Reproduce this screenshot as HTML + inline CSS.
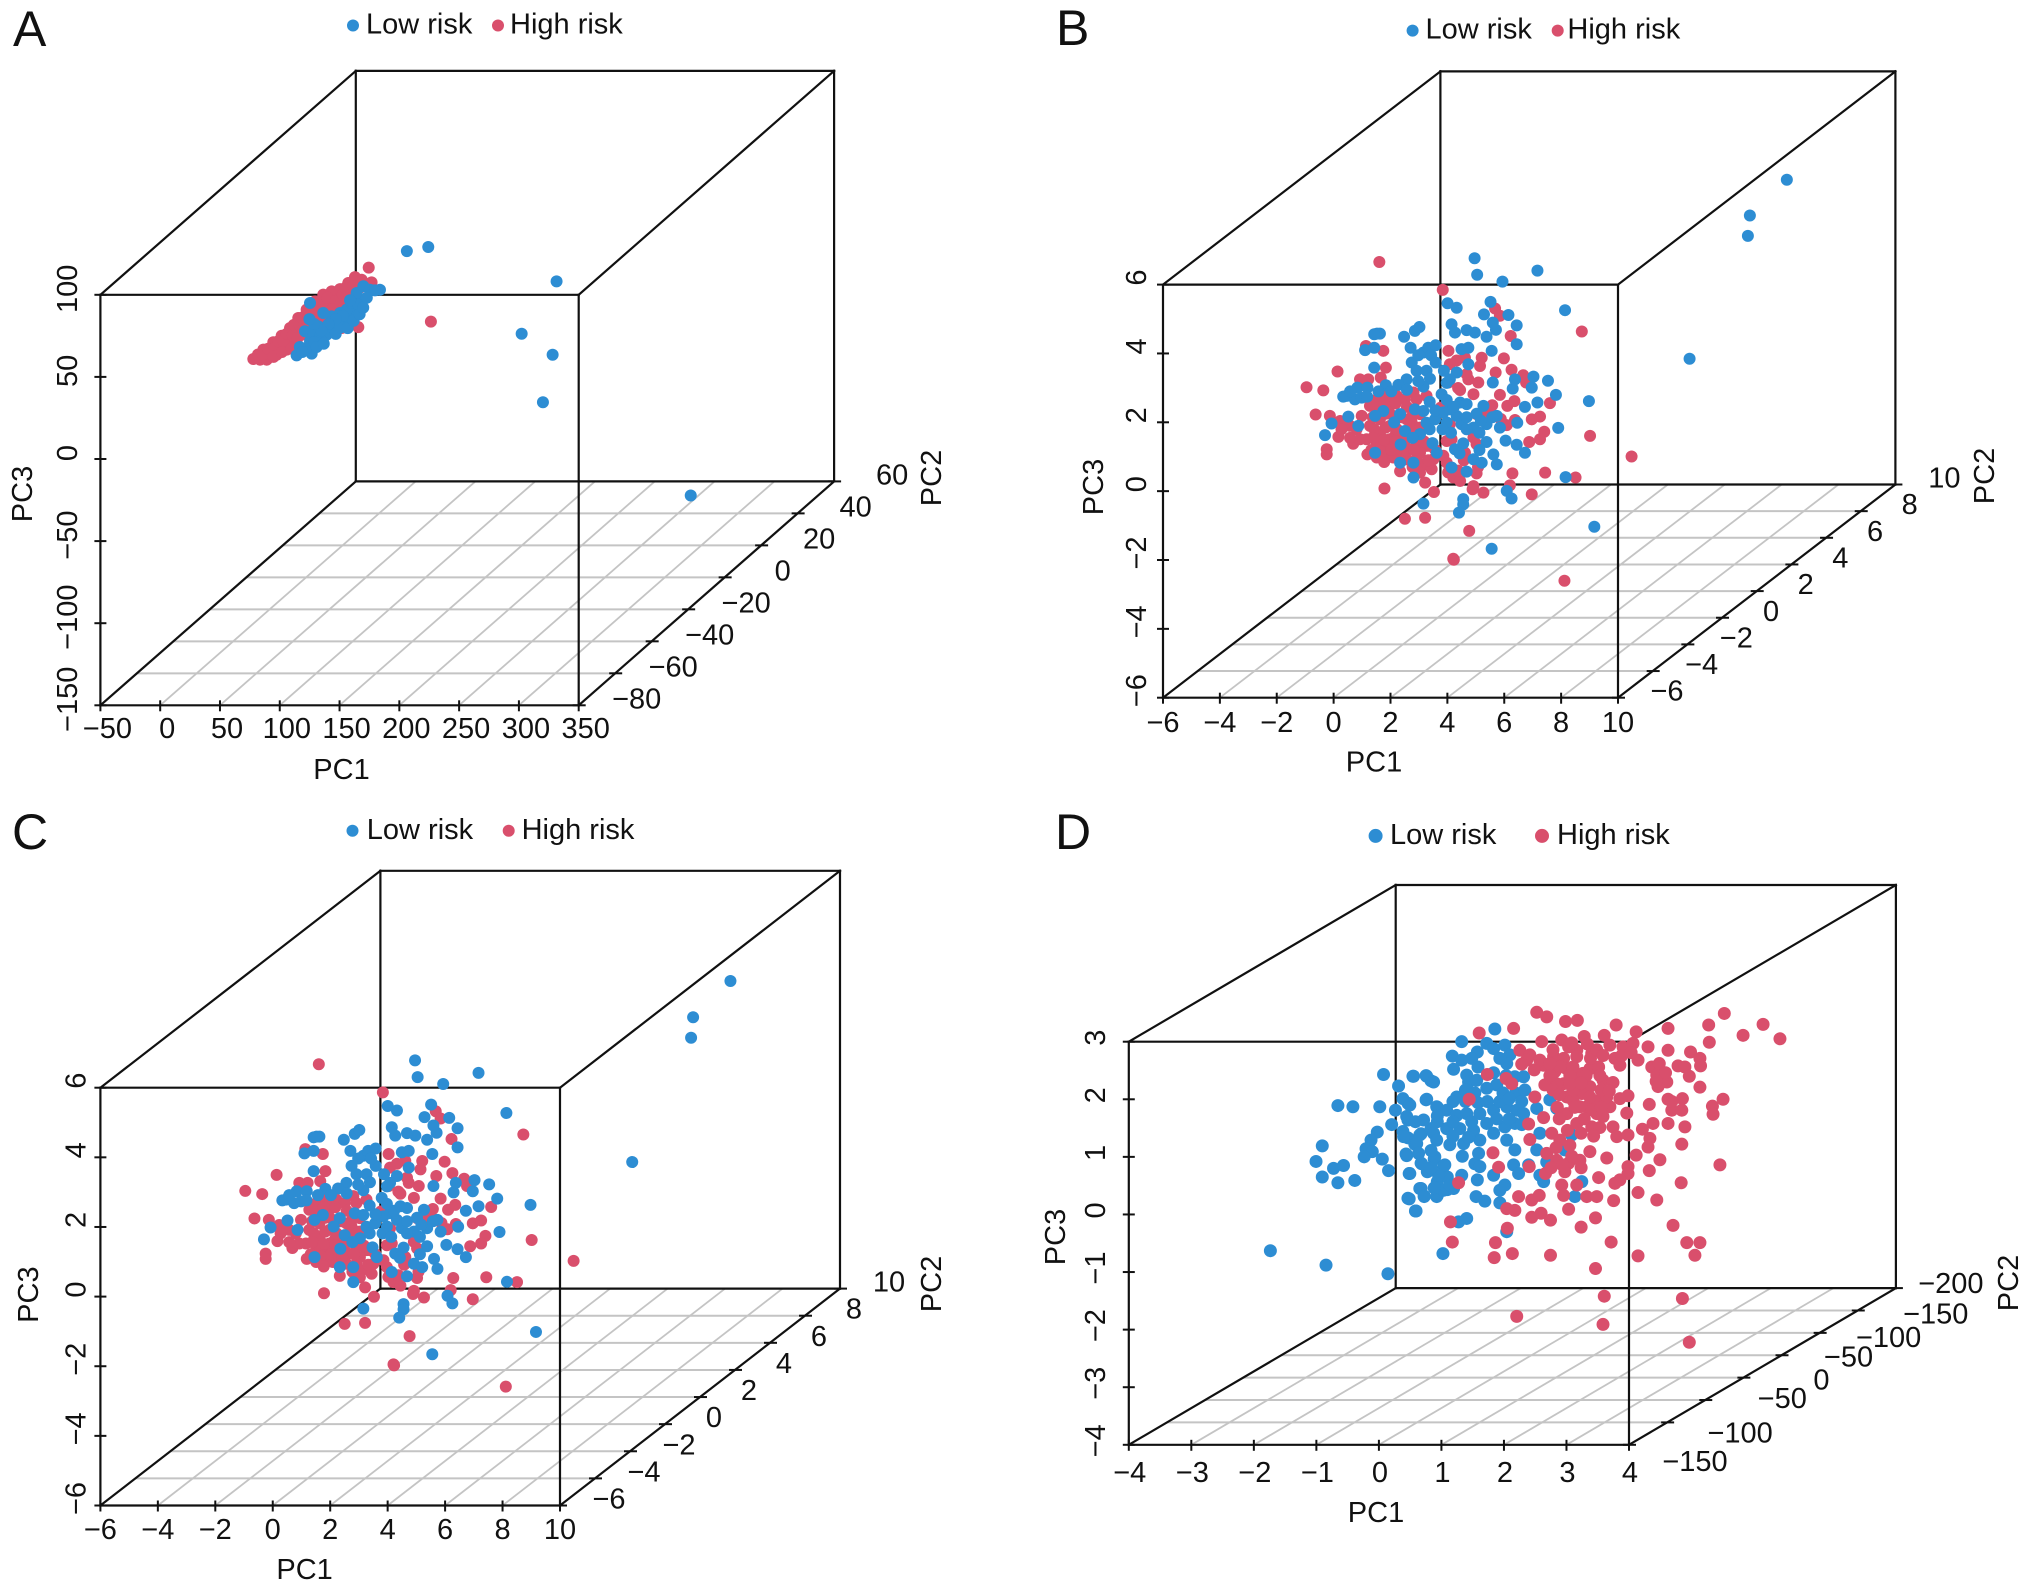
<!DOCTYPE html>
<html lang="en">
<head>
<meta charset="utf-8">
<title>PCA 3D scatter plots: low risk and high risk</title>
<style>
html,body{margin:0;padding:0;background:#fff;}
svg{display:block;}
text{font-family:"Liberation Sans",Arial,sans-serif;fill:#111;}
</style>
</head>
<body>
<svg id="figure" xmlns="http://www.w3.org/2000/svg" width="2032" height="1593" viewBox="0 0 2032 1593"></svg>
<script>
// Points are [PC1, PC3]. Depth cannot be read from a 2D view,
// so each panel's series sits at one PC2 value, named below.
const aPC2 = -10;
const bcPC2 = 2;
const dPC2 = 25;

const aLow = [[99.5,58.4],[117.4,60.9],[224.7,40.0],[195.5,8.1],[221.4,-4.7],[213.3,-33.6],[336.9,-90.4],[18.5,26.8],[7.3,-5.1],[19.9,-4.0],[15.7,-0.6],[18.5,3.5],[14.3,9.6],[21.3,8.5],[26.8,6.5],[25.5,12.6],[32.4,7.5],[38.0,12.6],[42.2,16.7],[47.8,14.6],[51.9,18.7],[57.5,21.7],[61.7,27.8],[57.5,32.9],[63.1,37.0],[68.6,34.9],[77.0,34.9],[72.8,34.5],[49.2,22.8],[36.6,18.7],[29.6,20.7],[53.3,26.8],[58.9,25.8],[43.6,20.7],[10,0],[12,-3],[22,3],[24,0],[30,2],[35,9],[40,8],[44,12],[50,11.5],[55,16],[60,20],[63,24],[66,30],[52,28.5],[46,19],[40,17],[34,14],[28,10],[22,14],[18,17]];
const aHigh = [[67.6,48.4],[119.6,15.5],[58.9,12.1],[-28.9,-7.3],[-20.5,-1.6],[-12.2,2.9],[-5.2,6.9],[1.8,11.6],[8.7,17.7],[15.7,22.8],[22.7,27.8],[29.6,31.9],[36.6,33.9],[43.6,35.3],[50.5,39.0],[56.1,42.6],[61.7,41.0],[70.0,39.4],[-23.3,-7.7],[-15.0,-3.6],[-6.6,0.0],[0.4,4.5],[7.3,9.6],[14.3,14.6],[21.3,19.7],[28.2,24.8],[35.2,27.8],[43.6,29.9],[51.9,33.9],[-17.7,-7.7],[-9.4,-4.7],[-1.0,-1.6],[6.0,3.5],[11.5,7.5],[18.5,10.6],[25.5,16.7],[33.8,19.7],[40.8,23.8],[47.8,26.8],[45.0,11.6],[-25,-4.5],[-21,-4.5],[-16.5,-1],[-11,-0.5],[-8,3.5],[-3.5,3],[-1,8],[4,7],[5,13.5],[10,13],[12,18],[17,17.5],[18,22],[24,22],[25,26],[32,25],[33,30],[40,28],[46,32],[48,36],[55,37],[60,36],[-12,-6],[-5,-3],[3,-1],[8,5.5],[13,11],[20,14.5],[28,14],[30,19],[37,23],[44,26]];

const bcLow = [[-3.35,1.48],[-3.25,1.48],[-3.45,1.46],[-2.40,1.39],[-2.02,1.56],[-1.86,1.67],[-3.77,1.00],[-3.45,1.07],[-2.17,1.07],[-1.72,0.93],[-1.55,1.07],[-1.29,1.14],[-3.45,0.49],[-2.13,0.64],[-1.96,0.40],[-1.61,0.40],[-1.29,0.64],[-1.49,0.17],[-2.31,0.15],[-2.60,-0.01],[-3.04,-0.02],[-4.04,-0.09],[-3.69,-0.09],[-4.54,-0.35],[-4.42,-0.33],[-4.13,-0.43],[-3.89,-0.38],[-1.72,-0.06],[-1.08,-0.28],[-3.13,-0.77],[-3.42,-0.91],[-2.54,-0.86],[-2.02,-0.72],[-1.72,-0.77],[-4.36,-0.93],[-4.95,-1.13],[-5.18,-1.47],[-4.01,-1.20],[-2.37,-1.35],[-1.84,-1.44],[-1.61,-1.11],[-1.31,-1.01],[-1.02,-0.81],[-0.79,-0.72],[-0.43,-0.52],[-0.20,-0.57],[-0.55,-0.91],[-0.38,-1.15],[0.04,-1.25],[0.50,-1.15],[0.86,-0.91],[0.97,-1.25],[0.39,-0.62],[-2.52,-1.74],[-3.42,-1.98],[-1.25,-1.98],[-0.61,-1.88],[-0.32,-1.71],[0.50,-1.67],[0.04,-2.17],[0.33,-2.27],[0.74,-2.03],[0.86,-2.32],[1.17,-1.63],[1.56,-1.75],[1.85,-1.98],[1.58,-1.11],[1.85,-0.65],[2.29,-0.52],[2.94,-0.30],[2.66,0.11],[2.09,-0.09],[2.15,0.23],[1.42,-0.12],[1.50,0.15],[0.72,0.06],[4.10,-0.48],[3.02,-1.26],[3.26,2.16],[1.56,1.17],[0.68,0.98],[0.50,1.39],[0.83,1.59],[0.09,1.51],[-0.20,1.58],[-0.61,1.51],[-0.73,1.75],[0.41,2.04],[0.72,1.80],[1.27,2.02],[1.56,1.72],[-0.55,2.23],[-0.87,2.36],[0.64,2.40],[-0.38,1.03],[-0.14,1.07],[-0.14,0.59],[-0.55,0.35],[-0.79,0.15],[-2.54,-2.27],[-2.07,-2.27],[-2.07,-2.70],[-0.73,-2.41],[-0.20,-2.53],[3.28,-2.69],[-1.72,-3.46],[-0.32,-3.33],[-0.32,-3.48],[-0.47,-3.72],[1.21,-3.09],[1.38,-3.31],[4.29,-4.13],[0.68,-4.77],[11.06,5.95],[9.76,4.91],[9.69,4.32],[7.64,0.75],[0.08,3.67],[0.17,3.19],[2.29,3.31],[1.06,2.99],[-0.9,-1.1],[-0.65,-0.65],[-0.2,-0.95],[0.15,-0.85],[0.3,-1.05],[0.7,-0.95],[-1.05,-1.3],[-0.75,-1.4],[-1.5,-1.3],[-1.3,-0.75],[-1.5,-0.5],[-0.9,-0.45],[-0.2,-1.3],[0.25,-1.4],[-4.3,-0.2],[-3.7,-0.35],[-3.3,-0.2],[-2.85,-0.2],[-2.3,-0.15],[-1.9,0.1],[-1.0,0.4],[-1.9,0.85],[-1.45,0.85],[-0.9,0.05],[-0.45,-2.0],[0.25,-1.9],[-1.4,-1.7],[-2.1,-1.55],[-2.75,-1.1]];
const bcHigh = [[-3.27,3.56],[-1.04,2.75],[-0.65,-5.09],[3.24,-5.70],[-4.74,0.38],[-5.83,-0.08],[-5.24,-0.17],[-5.51,-0.87],[-5.01,-0.91],[-4.65,-1.06],[-4.71,-1.52],[-4.19,-1.72],[-5.12,-1.88],[-5.12,-2.03],[-3.69,-2.03],[-3.89,-0.91],[-3.95,0.15],[-3.66,0.15],[-3.22,0.20],[-3.04,0.49],[-3.13,0.98],[-3.74,1.12],[-3.36,-0.43],[-3.01,-0.33],[-2.66,-0.33],[-3.36,-0.72],[-2.90,-0.62],[-2.37,-0.43],[-2.07,-0.23],[-1.61,-0.33],[-3.60,-1.20],[-3.25,-1.40],[-2.90,-1.20],[-4.07,-1.30],[-3.36,-1.69],[-3.01,-1.78],[-2.66,-1.98],[-2.25,-1.88],[-1.61,-1.78],[-3.36,-2.12],[-2.78,-2.12],[-1.84,-1.98],[-1.78,-2.37],[-1.43,-2.46],[-1.96,-2.17],[-2.54,-2.52],[-1.84,-2.56],[-1.66,-2.85],[-3.09,-3.02],[-1.35,-3.12],[-2.37,-3.90],[-1.66,-3.87],[-0.11,-4.25],[-0.67,-5.06],[-0.90,-1.64],[-1.02,-2.07],[-0.73,-1.59],[-0.90,-2.27],[-0.67,-2.70],[-0.43,-2.80],[0.04,-2.95],[0.01,-3.04],[0.15,-2.58],[-0.26,-1.98],[0.04,-1.54],[0.15,-1.73],[0.39,-3.14],[2.09,-3.19],[1.32,-2.93],[1.41,-2.58],[2.56,-2.56],[3.63,-2.70],[5.60,-2.09],[4.14,-1.49],[2.53,-1.37],[2.38,-1.59],[2.00,-1.67],[2.09,-1.01],[2.38,-0.93],[1.50,-1.03],[1.21,-1.18],[2.73,-0.54],[1.23,-0.62],[1.48,-0.48],[0.97,-0.30],[0.15,-0.86],[0.62,-0.72],[-0.14,0.15],[0.21,0.06],[0.04,-0.28],[-0.43,-0.16],[-0.84,0.06],[-0.79,0.59],[-0.84,0.98],[-0.26,0.78],[0.33,0.78],[0.27,0.54],[1.11,0.76],[0.82,0.35],[1.38,0.43],[1.79,0.27],[1.89,0.06],[1.35,1.41],[3.85,1.54],[0.80,2.21],[0.97,2.00],[-1.11,-0.67],[-2.13,-1.11],[-2.72,-1.49],[-0.79,-1.15],[-1.84,-0.86],[-3.25,-1.01],[-2.78,-0.91],[-2.31,-1.01],[-1.96,-0.43],[-2.90,-1.59],[-3.72,-1.59],[-2.43,-1.59],[-1.96,-1.69],[-1.49,-1.78],[-1.37,-2.17],[-3.13,-1.98],[-2.31,-2.17],[-1.61,-1.20],[-3.60,-0.62],[-3.95,-1.59],[-4.30,-1.20],[-4.42,-1.10],[-2.90,-0.43],[-2.54,-1.78],[-3.25,-1.78],[-3.5,-0.55],[-3.1,-0.55],[-2.7,-0.55],[-2.3,-0.65],[-3.5,-0.95],[-3.05,-0.85],[-2.5,-0.95],[-2.1,-0.9],[-3.45,-1.3],[-3.05,-1.25],[-2.65,-1.3],[-2.2,-1.3],[-1.85,-1.25],[-3.5,-1.55],[-3.1,-1.6],[-2.7,-1.65],[-2.25,-1.55],[-3.55,-1.9],[-3.2,-1.95],[-2.85,-1.9],[-2.45,-1.95],[-2.05,-1.9],[-1.7,-1.65],[-3.1,-2.25],[-2.55,-2.2],[-2.1,-2.4],[-1.55,-2.2],[-1.3,-1.9],[-4.3,-1.55],[-4.6,-1.3],[-0.85,-2.55],[-0.5,-2.5],[-0.3,-2.2],[0.2,-2.4],[1.0,-1.0],[0.7,-0.6],[0.4,-0.9],[-0.5,-0.1],[-0.2,0.3],[-0.55,0.7]];

const dLow = [[-3.87,-1.99],[-2.98,-2.24],[-1.99,-2.39],[-2.79,0.53],[-2.55,0.51],[-2.12,0.51],[-2.06,1.07],[-1.59,1.04],[-1.38,1.05],[-1.30,0.96],[-1.82,0.87],[-1.75,0.65],[-1.67,0.57],[-1.87,0.45],[-1.67,0.28],[-1.93,0.20],[-1.38,0.63],[-1.20,0.50],[-2.16,0.07],[-2.26,-0.07],[-2.34,-0.22],[-2.24,-0.27],[-2.37,-0.36],[-3.04,-0.17],[-3.14,-0.44],[-2.86,-0.56],[-2.70,-0.51],[-3.04,-0.71],[-2.79,-0.81],[-2.52,-0.77],[-2.08,-0.40],[-1.98,-0.60],[-1.75,0.08],[-1.67,-0.03],[-1.69,-0.34],[-1.65,-0.65],[-1.46,0.04],[-1.30,0.13],[-1.56,-0.14],[-1.46,-0.47],[-1.25,-0.40],[-1.10,-0.53],[-1.36,-0.62],[-1.20,-0.79],[-1.04,-0.71],[-1.46,-0.91],[-1.67,-1.08],[-1.41,-1.04],[-1.20,-1.03],[-1.04,-0.93],[-1.54,-1.30],[-0.81,1.64],[-0.28,1.86],[-0.56,1.46],[-0.41,1.61],[-0.30,1.52],[-0.12,1.58],[-0.04,1.41],[-0.09,1.26],[-0.96,1.39],[-0.81,1.32],[-0.94,1.16],[-0.73,1.06],[-0.70,0.94],[-0.57,0.97],[-0.25,0.89],[-0.41,0.83],[0.04,1.03],[0.18,1.03],[-1.58,1.04],[-1.37,1.04],[-1.26,0.94],[-0.89,0.68],[-1.37,0.64],[-1.21,0.51],[-1.64,0.54],[-1.05,0.45],[-0.89,0.36],[-0.73,0.39],[-0.52,0.39],[-0.30,0.45],[-0.09,0.51],[0.07,0.45],[-0.20,0.60],[0.18,0.39],[0.04,0.22],[-0.12,0.16],[-0.41,0.22],[-0.62,0.10],[-0.84,0.13],[-1.05,0.13],[-1.26,0.05],[-1.42,0.28],[-1.69,0.34],[-1.48,0.02],[-1.74,-0.01],[-1.53,-0.13],[-1.21,-0.07],[-0.78,-0.13],[-0.52,-0.07],[-0.54,-0.30],[-0.60,-0.48],[-0.52,-0.53],[-0.56,-0.76],[-0.30,-0.68],[0.02,-0.50],[0.10,-0.65],[0.26,-0.50],[0.44,-0.68],[0.50,-0.79],[0.04,-0.24],[0.39,-0.24],[0.55,-0.45],[-0.09,-0.07],[0.44,0.05],[0.60,0.63],[0.71,0.48],[0.39,0.48],[-1.70,-0.31],[-1.45,-0.48],[-1.24,-0.36],[-1.08,-0.50],[-1.18,-0.68],[-1.64,-0.65],[-0.81,-0.68],[-1.48,-0.91],[-1.65,-1.09],[-1.41,-1.05],[-1.21,-1.05],[-1.10,-0.94],[-0.94,-0.91],[-0.58,-1.05],[-0.44,-1.13],[-0.12,-0.85],[-0.20,-0.94],[-0.20,-1.16],[-1.55,-1.30],[-0.73,-1.43],[-0.86,-1.49],[-1.11,-2.04],[-0.09,-1.66],[1.00,-1.05],[1.11,-0.79],[0.84,-0.24],[0.95,0.02],[-0.75,0.8],[-0.6,0.75],[-0.15,0.75],[0.05,0.75],[0.2,0.8],[-0.95,0.6],[-0.75,0.6],[-0.55,0.58],[-0.4,0.6],[-0.05,0.65],[0.15,0.6],[-0.65,0.25],[-0.25,0.3],[-0.05,0.3],[-0.95,0.25],[-1.2,0.25],[-1.2,0.35],[-0.7,-0.02],[-0.3,0.05],[-0.95,0.0],[-0.55,1.2],[-0.3,1.1],[-0.1,1.05],[-0.65,1.35],[-0.2,1.35],[0.15,0.2],[-1.55,0.25],[-1.0,-0.15],[-1.3,-0.25],[-1.5,-0.3],[-0.8,-0.35],[-1.0,-0.85],[-1.25,-0.9],[-1.3,-0.55]];
const dHigh = [[-0.53,1.79],[0.02,1.87],[0.39,2.15],[0.55,2.07],[0.85,1.99],[1.04,2.01],[1.66,1.93],[1.98,1.81],[2.49,1.87],[3.14,1.93],[3.39,2.13],[3.69,1.75],[4.01,1.94],[4.28,1.69],[3.15,1.63],[2.49,1.49],[2.17,1.55],[2.85,1.46],[3.00,1.35],[3.01,1.22],[2.65,1.22],[2.76,1.20],[2.83,1.04],[3.00,0.85],[0.47,1.64],[0.79,1.67],[1.15,1.73],[1.47,1.75],[1.56,1.58],[1.77,1.55],[1.93,1.61],[2.01,1.32],[2.23,1.20],[2.35,1.26],[2.31,1.06],[2.47,0.94],[2.33,0.86],[1.45,0.97],[1.61,0.93],[1.64,1.35],[1.72,1.23],[1.27,1.44],[1.03,1.49],[0.82,1.35],[0.12,1.49],[0.28,1.41],[0.23,1.32],[0.50,1.23],[0.44,1.32],[0.68,1.12],[0.87,1.17],[1.24,1.17],[1.03,1.38],[0.52,0.89],[0.82,0.91],[1.03,1.00],[1.24,0.86],[0.87,0.68],[1.11,0.74],[1.40,0.63],[1.56,0.51],[1.35,0.39],[1.19,0.51],[0.87,0.39],[1.03,0.22],[1.27,0.16],[1.45,0.34],[1.72,0.65],[1.85,0.70],[1.83,0.40],[2.19,0.55],[2.49,0.64],[2.72,0.65],[2.55,0.45],[2.71,0.45],[3.20,0.52],[3.37,0.64],[3.21,0.38],[2.76,0.16],[2.49,0.22],[2.25,0.22],[2.08,0.12],[2.20,-0.04],[2.71,-0.14],[2.17,-0.19],[1.98,-0.33],[2.36,-0.41],[2.19,-0.60],[1.85,-0.53],[1.85,-0.65],[1.72,-0.76],[1.64,-0.82],[1.51,-0.38],[1.24,-0.27],[1.38,-0.72],[1.61,0.16],[1.67,-0.01],[1.85,0.02],[0.63,0.05],[0.76,-0.07],[0.92,-0.16],[0.55,-0.30],[0.71,-0.42],[0.90,-0.47],[1.08,-0.42],[0.84,-0.62],[0.53,-0.65],[0.27,-0.53],[-0.22,-0.54],[-0.31,-0.29],[-0.69,0.64],[-0.40,1.07],[-0.10,1.00],[-0.01,0.91],[0.36,0.68],[0.26,0.21],[0.28,-0.06],[0.50,0.32],[0.79,-0.85],[0.82,-1.03],[1.03,-0.85],[1.19,-1.05],[1.35,-1.05],[1.62,-1.12],[2.01,-0.98],[2.31,-1.11],[2.70,-0.81],[3.32,-0.50],[0.90,-1.27],[1.33,-1.42],[1.10,-1.58],[2.57,-1.55],[2.79,-1.85],[3.00,-1.85],[2.92,-2.07],[2.01,-2.08],[1.58,-1.84],[0.61,-2.07],[1.33,-2.30],[0.00,-2.04],[-0.29,-2.11],[-0.27,-1.85],[-0.08,-1.60],[-0.96,-1.84],[-0.99,-1.49],[-0.86,-0.81],[0.31,-1.41],[0.46,-1.34],[0.61,-1.46],[0.04,-1.29],[-0.09,-1.26],[0.10,-1.05],[0.31,-1.11],[0.43,-1.03],[1.47,-2.78],[2.72,-2.82],[0.07,-3.13],[1.45,-3.27],[2.83,-3.58],[0.97,0.62],[1.08,0.51],[0.71,0.91],[0.66,1.38],[1.13,1.09],[0.97,1.20],[1.29,0.62],[0.97,0.80],[1.24,0.68],[0.76,1.20],[0.60,1.26],[1.51,0.68],[0.65,1.5],[0.9,1.55],[1.2,1.6],[0.6,1.05],[0.92,1.05],[1.18,1.05],[1.38,1.2],[1.4,1.05],[0.65,0.8],[0.92,0.9],[1.1,0.92],[1.42,0.8],[1.55,0.78],[0.75,0.72],[0.72,0.5],[1.0,0.5],[1.28,0.45],[1.42,0.5],[0.75,0.3],[1.15,0.3],[1.4,0.15],[0.88,0.1],[1.1,0.05],[1.3,0.0],[0.7,-0.2],[0.95,-0.35],[1.1,-0.55],[0.8,-0.5],[0.62,-0.55],[0.35,1.15],[0.15,1.25],[1.25,1.35],[1.35,1.5],[0.95,1.62],[1.45,1.4],[1.75,1.4],[1.9,1.45],[2.45,1.1],[2.3,0.95],[2.55,0.6]];

const aPC1Ticks = [-50,0,50,100,150,200,250,300,350];
const aPC2Ticks = [-80,-60,-40,-20,0,20,40,60];
const aPC3Ticks = [-150,-100,-50,0,50,100];
const bcPC1Ticks = [-6,-4,-2,0,2,4,6,8,10];
const bcPC2Ticks = [-6,-4,-2,0,2,4,6,8,10];
const bcPC3Ticks = [-6,-4,-2,0,2,4,6];
const dPC1Ticks = [-4,-3,-2,-1,0,1,2,3,4];
const dPC2Ticks = [-150,-100,-50,0,50,100,150,200];
const dPC3Ticks = [-4,-3,-2,-1,0,1,2,3];
// Panel D prints its PC2 axis with these labels, exactly as in the figure.
const dPC2Labels = ['−150','−100','−50','0','−50','−100','−150','−200'];

const LOW_COLOR = '#2d8dd3';
const HIGH_COLOR = '#d94f6c';
const SVG_NS = 'http://www.w3.org/2000/svg';
const figure = document.getElementById('figure');

function fmt(v){ return String(v).replace('-', '−'); }
function last(a){ return a[a.length-1]; }

function makeEl(parent, tag, attrs, content){
  const el = document.createElementNS(SVG_NS, tag);
  for (const k in attrs) el.setAttribute(k, attrs[k]);
  if (content !== undefined) el.textContent = content;
  parent.appendChild(el);
  return el;
}

function drawPanel(p){
  const g = makeEl(figure, 'g', {});
  
  

  const f1 = v => (v - p.pc1[0]) / (last(p.pc1) - p.pc1[0]);
  const f2 = v => (v - p.pc2[0]) / (last(p.pc2) - p.pc2[0]);
  const f3 = v => (v - p.pc3[0]) / (last(p.pc3) - p.pc3[0]);
  const sx = (a, b) => p.x0 + p.w * f1(a) + p.dx * f2(b);
  const sy = (c, b) => p.y1 - p.h * f3(c) - p.dy * f2(b);

  const a0 = p.pc1[0], a1 = last(p.pc1), b0 = p.pc2[0], b1 = last(p.pc2), c0 = p.pc3[0], c1 = last(p.pc3);

  // floor grid
  p.pc1.slice(1, -1).forEach(v => {
    const l = makeEl(g, 'line', {x1:sx(v,b0), y1:sy(c0,b0), x2:sx(v,b1), y2:sy(c0,b1), stroke:'#c4c4c4', 'stroke-width':1.8});
    
    
  });
  p.pc2.slice(1, -1).forEach(v => {
    const l = makeEl(g, 'line', {x1:sx(a0,v), y1:sy(c0,v), x2:sx(a1,v), y2:sy(c0,v), stroke:'#c4c4c4', 'stroke-width':2});
    
    
  });

  // box edges: back face, connecting edges, front face
  const edges = [
    [a0,b1,c0,a1,b1,c0],[a0,b1,c1,a1,b1,c1],[a0,b1,c0,a0,b1,c1],[a1,b1,c0,a1,b1,c1],
    [a0,b0,c0,a0,b1,c0],[a1,b0,c0,a1,b1,c0],[a0,b0,c1,a0,b1,c1],[a1,b0,c1,a1,b1,c1],
    [a0,b0,c0,a1,b0,c0],[a0,b0,c1,a1,b0,c1],[a0,b0,c0,a0,b0,c1],[a1,b0,c0,a1,b0,c1]
  ];
  edges.forEach(e => {
    const l = makeEl(g, 'line', {x1:sx(e[0],e[1]), y1:sy(e[2],e[1]), x2:sx(e[3],e[4]), y2:sy(e[5],e[4]), stroke:'#111', 'stroke-width':2.2, 'stroke-linecap':'square'});
    
    
  });

  // PC1 axis (ticks straddle the axis line)
  p.pc1.forEach(v => {
    const x = sx(v,b0), y = sy(c0,b0);
    const t = makeEl(g, 'line', {x1:x, y1:y-5, x2:x, y2:y+6, stroke:'#111', 'stroke-width':2});
    
    
    const lab = makeEl(g, 'text', {x:x+p.pc1LabelDx, y:p.pc1LabelY, 'font-size':p.fs, 'text-anchor':'middle', 'dominant-baseline':'central'}, fmt(v));
    
    
  });
  // PC3 axis
  p.pc3.forEach(v => {
    const x = sx(a0,b0), y = sy(v,b0);
    const t = makeEl(g, 'line', {x1:x-6, y1:y, x2:x+6, y2:y, stroke:'#111', 'stroke-width':2});
    
    
    const ly = y + p.pc3LabelDy;
    const lab = makeEl(g, 'text', {x:p.pc3LabelX, y:ly, 'font-size':p.fs, 'text-anchor':'middle', 'dominant-baseline':'central', transform:'rotate(-90 '+p.pc3LabelX+' '+ly+')'}, fmt(v));
    
    
  });
  // PC2 axis
  p.pc2.forEach((v,i) => {
    const x = sx(a1,v), y = sy(c0,v);
    const t = makeEl(g, 'line', {x1:x-6, y1:y, x2:x+7, y2:y, stroke:'#111', 'stroke-width':2});
    
    
    const text = p.pc2Labels ? p.pc2Labels[i] : fmt(v);
    const shift = p.pc2LabelShift ? p.pc2LabelShift[i] : [p.pc2LabelDx, p.pc2LabelDy];
    const lab = makeEl(g, 'text', {x:x+shift[0], y:y+shift[1], 'font-size':p.fs, 'text-anchor':'middle', 'dominant-baseline':'central'}, text);
    
    
  });

  // axis titles
  const t1 = makeEl(g, 'text', {x:p.t1[0], y:p.t1[1], 'font-size':p.fs, 'text-anchor':'middle', 'dominant-baseline':'central'}, 'PC1');
  
  
  const t3 = makeEl(g, 'text', {x:p.t3[0], y:p.t3[1], 'font-size':p.fs, 'text-anchor':'middle', 'dominant-baseline':'central', transform:'rotate(-90 '+p.t3[0]+' '+p.t3[1]+')'}, 'PC3');
  
  
  const t2 = makeEl(g, 'text', {x:p.t2[0], y:p.t2[1], 'font-size':p.fs, 'text-anchor':'middle', 'dominant-baseline':'central', transform:'rotate(-90 '+p.t2[0]+' '+p.t2[1]+')'}, 'PC2');
  
  

  // points
  const drawSeries = (pts, color, name) => pts.forEach(pt => {
    const c = makeEl(g, 'circle', {cx:sx(pt[0],p.depth), cy:sy(pt[1],p.depth), r:p.r, fill:color});
    
    
  });
  if (p.lowOnTop) {
    drawSeries(p.high, HIGH_COLOR, 'point-high-risk');
    drawSeries(p.low, LOW_COLOR, 'point-low-risk');
  } else {
    drawSeries(p.low, LOW_COLOR, 'point-low-risk');
    drawSeries(p.high, HIGH_COLOR, 'point-high-risk');
  }

  // panel letter
  const letter = makeEl(g, 'text', {x:p.letter[0], y:p.letter[1], 'font-size':50}, p.id);
  
  

  // legend
  const d1 = makeEl(g, 'circle', {cx:p.leg[0], cy:p.leg[1], r:p.legR, fill:LOW_COLOR});
  
  
  const l1 = makeEl(g, 'text', {x:p.leg[2], y:p.leg[1]-1, 'font-size':p.fs, 'dominant-baseline':'central'}, 'Low risk');
  
  
  const d2 = makeEl(g, 'circle', {cx:p.leg[3], cy:p.leg[1], r:p.legR, fill:HIGH_COLOR});
  
  
  const l2 = makeEl(g, 'text', {x:p.leg[4], y:p.leg[1]-1, 'font-size':p.fs, 'dominant-baseline':'central'}, 'High risk');
  
  
}

drawPanel({id:'A', pc1:aPC1Ticks, pc2:aPC2Ticks, pc3:aPC3Ticks, depth:aPC2, low:aLow, high:aHigh, lowOnTop:true,
  x0:100.4, w:478.3, dx:255.4, y1:705.3, h:410.5, dy:223.9, r:6, fs:29,
  pc1LabelDx:7, pc1LabelY:729, pc3LabelX:68, pc3LabelDy:-6, pc2LabelDx:58, pc2LabelDy:-6,
  t1:[341.5,770], t3:[23,494], t2:[932,478], letter:[13,46], leg:[353,25.5,366,498,510], legR:6});
drawPanel({id:'B', pc1:bcPC1Ticks, pc2:bcPC2Ticks, pc3:bcPC3Ticks, depth:bcPC2, low:bcLow, high:bcHigh, lowOnTop:true,
  x0:1163, w:455, dx:277.4, y1:697.7, h:413.1, dy:213.2, r:6, fs:29,
  pc1LabelDx:0, pc1LabelY:723, pc3LabelX:1137, pc3LabelDy:-7, pc2LabelDx:49, pc2LabelDy:-6,
  t1:[1374,762.5], t3:[1094,487], t2:[1985,476], letter:[1056,45], leg:[1412.6,30.6,1425.5,1557.7,1567.4], legR:6});
drawPanel({id:'C', pc1:bcPC1Ticks, pc2:bcPC2Ticks, pc3:bcPC3Ticks, depth:bcPC2, low:bcLow, high:bcHigh, lowOnTop:true,
  x0:100.4, w:459.6, dx:280, y1:1505.5, h:417.8, dy:216.9, r:6, fs:29,
  pc1LabelDx:0, pc1LabelY:1530, pc3LabelX:76.5, pc3LabelDy:-7, pc2LabelDx:49, pc2LabelDy:-6,
  t1:[304.6,1570], t3:[29,1294.6], t2:[932,1284], letter:[12,849], leg:[352.5,830.8,366.8,508.7,521.6], legR:6});
drawPanel({id:'D', pc1:dPC1Ticks, pc2:dPC2Ticks, pc3:dPC3Ticks, pc2Labels:dPC2Labels, depth:dPC2, low:dLow, high:dHigh, lowOnTop:false,
  x0:1128.8, w:500.2, dx:266.9, y1:1444.8, h:403.1, dy:156.7, r:6.5, fs:29,
  pc1LabelDx:1, pc1LabelY:1473, pc3LabelX:1096, pc3LabelDy:-4,
  pc2LabelShift:[[66,17],[73,11],[77,-1],[78,3],[67,2],[69,5],[78,4],[55,-4]],
  t1:[1376,1513], t3:[1056,1237], t2:[2009,1283], letter:[1055,849], leg:[1375.6,835.9,1390,1542,1557], legR:7});
</script>
</body>
</html>
